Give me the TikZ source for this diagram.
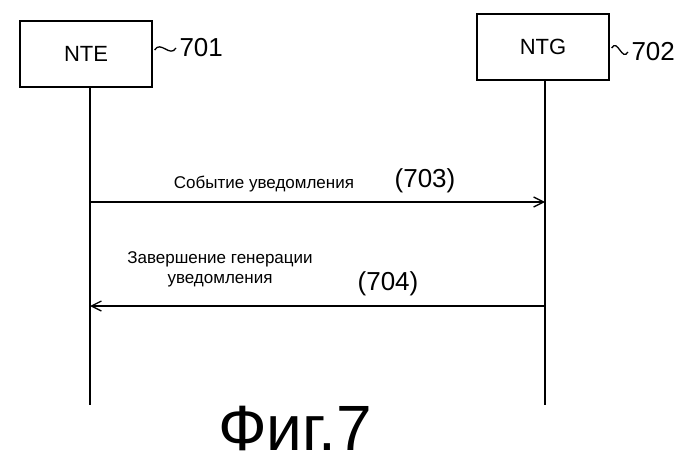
\documentclass[tikz,border=0pt]{standalone}
\usepackage{fontspec}
\setmainfont{Liberation Sans}
\usetikzlibrary{arrows.meta}
\begin{document}
\begin{tikzpicture}[x=1pt,y=-1pt,
  ent/.style={draw,line width=1.3pt,minimum width=132pt,minimum height=66pt,font=\fontsize{22}{26}\selectfont},
  life/.style={line width=1.3pt},
  msg/.style={line width=1.3pt,-{Straight Barb[length=10pt,width=10pt]}},
  lbl/.style={font=\fontsize{17}{20}\selectfont},
  num/.style={font=\fontsize{26}{30}\selectfont}]
\useasboundingbox (0,0) rectangle (699,468);
\node[ent] (nte) at (86,54) {NTE};
\node[ent] (ntg) at (543,47) {NTG};
\coordinate (nteb) at (90,405);
\coordinate (ntgb) at (545,405);
\draw[life] (nte.south -| nteb) -- (nteb);
\draw[life] (ntg.south -| ntgb) -- (ntgb);
\coordinate (a1) at (90,202); \coordinate (b1) at (545,202);
\coordinate (a2) at (545,306); \coordinate (b2) at (90,306);
\draw[msg] (a1) -- (b1);
\draw[msg] (a2) -- (b2);
\node[lbl] (l1) at (264,184) {Событие уведомления};
\node[num] (n1) at (425,181) {(703)};
\node[lbl,align=center,inner sep=0pt] (l2) at (220,269) {Завершение генерации\\уведомления};
\node[num] (n2) at (388,284) {(704)};
\node[num,anchor=west] (r1) at (176,48) {701};
\node[num,anchor=west] (r2) at (628,52) {702};
\draw[line width=1.3pt] (nte.east |- r1) ++(2,2) .. controls +(6,-10) and +(-6,10) .. (r1.west);
\draw[line width=1.3pt] (ntg.east |- r2) ++(2,-4) .. controls +(6,-10) and +(-6,10) .. (r2.west);
\node[font=\fontsize{64}{72}\selectfont,inner sep=0pt] (fig) at (295,428) {Фиг.7};
\end{tikzpicture}
\end{document}
